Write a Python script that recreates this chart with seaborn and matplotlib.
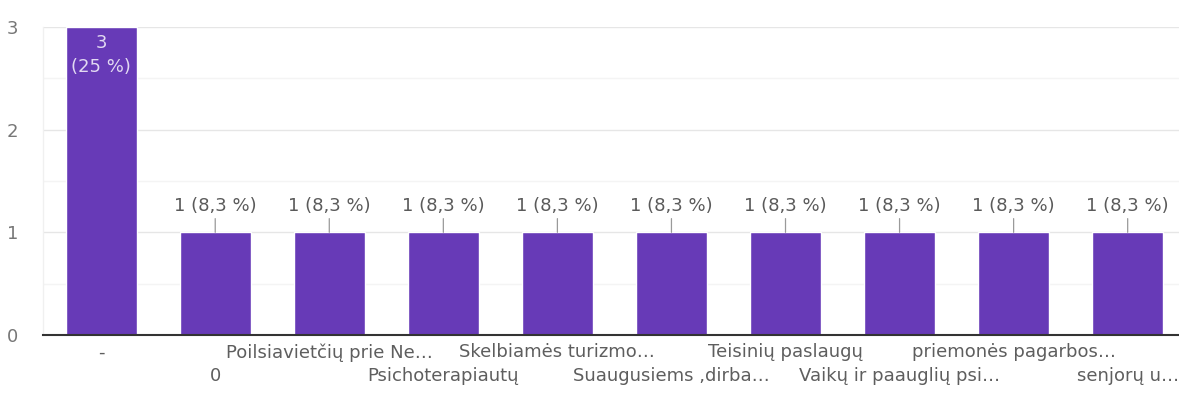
import matplotlib
matplotlib.use("Agg")
import matplotlib.pyplot as plt
import seaborn as sns
import pandas as pd

categories = ["-", "0", "Poilsiavietčių prie Ne…", "Psichoterapiautų",
              "Skelbiamės turizmo…", "Suaugusiems ,dirba…", "Teisinių paslaugų",
              "Vaikų ir paauglių psi…", "priemonės pagarbos…", "senjorų u…"]
counts = [3, 1, 1, 1, 1, 1, 1, 1, 1, 1]
pct_labels = ["25 %", "8,3 %", "8,3 %", "8,3 %", "8,3 %", "8,3 %", "8,3 %", "8,3 %", "8,3 %", "8,3 %"]
y_ticks = [0, 1, 2, 3]

sns.set_theme(style="white")
plt.rcParams['font.family'] = ['DejaVu Sans']

BAR = "#673ab7"
fig = plt.figure(figsize=(11.79, 3.97), dpi=100)
ax = fig.add_axes([43/1179, (397-335)/397, (1179-43)/1179, (335-27)/397])

df = pd.DataFrame({"cat": categories, "n": counts})
sns.barplot(data=df, x="cat", y="n", color=BAR, saturation=1, width=0.62, ax=ax, zorder=3)

ax.set_ylim(0, 3)
ax.set_xlim(-0.51, 9.45)
ax.set_yticks(y_ticks)
ax.set_yticks([0.5, 1.5, 2.5], minor=True)
ax.grid(axis="y", which="major", color="#e6e6e6", linewidth=1, zorder=0)
ax.grid(axis="y", which="minor", color="#f4f4f4", linewidth=1, zorder=0)
ax.set_xlabel("")
ax.set_ylabel("")
for s in ["top", "right"]:
    ax.spines[s].set_visible(False)
ax.spines["left"].set_color("#f0f0f0")
ax.spines["left"].set_linewidth(1)
ax.spines["bottom"].set_color("#333333")
ax.spines["bottom"].set_linewidth(1.5)
ax.spines["bottom"].set_zorder(5)

ax.tick_params(axis="y", length=0, pad=22, labelsize=13, labelcolor="#777777")
ax.tick_params(axis="x", length=0, pad=6, labelsize=13, labelcolor="#5e5e5e")
for lab in ax.get_yticklabels():
    lab.set_horizontalalignment("center")

for i, lab in enumerate(ax.get_xticklabels()):
    if i % 2 == 1:
        lab.set_y(-0.078)

for i, (v, p) in enumerate(zip(counts, pct_labels)):
    if v == max(counts):
        ax.annotate(f"{v}\n({p})", xy=(i, v), xytext=(0, -28), textcoords="offset pixels",
                    ha="center", va="center", fontsize=13, color="#e2daf2",
                    linespacing=1.45, zorder=6)
    else:
        ax.annotate(f"{v} ({p})", xy=(i, v), xytext=(0, 26), textcoords="offset pixels",
                    ha="center", va="center", fontsize=13, color="#5a5a5a",
                    arrowprops=dict(arrowstyle="-", color="#9a9a9a", lw=0.9,
                                    shrinkA=0, shrinkB=0), zorder=6)

fig.savefig("out.png", dpi=100)
